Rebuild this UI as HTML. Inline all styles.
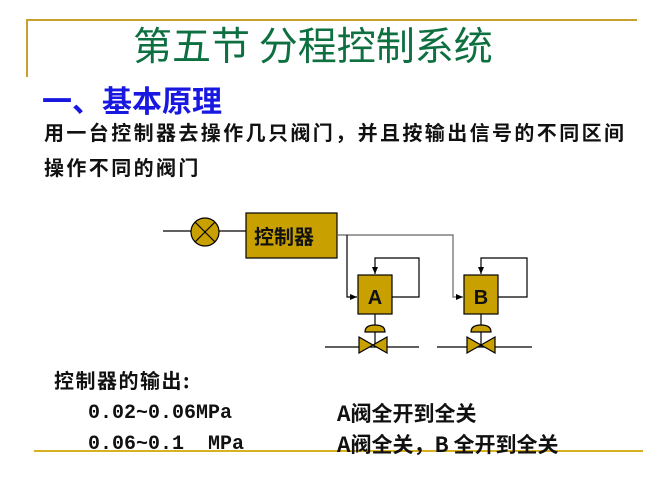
<!DOCTYPE html>
<html><head><meta charset="utf-8"><style>
body{margin:0;width:668px;height:502px;background:#fff;position:relative;overflow:hidden;font-family:"Liberation Sans","Noto Sans CJK SC",sans-serif}
.t{position:absolute;white-space:nowrap;line-height:1}
</style></head><body>
<div style="position:absolute;left:27px;top:19px;width:610px;height:2px;background:#c8a030"></div>
<div style="position:absolute;left:26px;top:19px;width:2px;height:58px;background:#c8a030"></div>
<div style="position:absolute;left:34px;top:450px;width:609px;height:2px;background:#d8b020"></div>
<div class="t" style="left:133px;top:25px;font-size:39px;color:#0e7040;font-family:'Noto Sans CJK SC',sans-serif">第五节 分程控制系统</div>
<div class="t" style="left:42px;top:84px;font-size:30px;color:#1818e0;font-weight:bold;font-family:'Noto Sans CJK SC',sans-serif">一、基本原理</div>
<div class="t" style="left:44px;top:122px;font-size:20px;letter-spacing:2.4px;font-weight:bold;font-family:'Noto Sans CJK SC',sans-serif;color:#111">用一台控制器去操作几只阀门，并且按输出信号的不同区间</div>
<div class="t" style="left:44px;top:157px;font-size:20px;letter-spacing:2.4px;font-weight:bold;font-family:'Noto Sans CJK SC',sans-serif;color:#111">操作不同的阀门</div>
<div class="t" style="left:54px;top:370px;font-size:20px;letter-spacing:1.5px;font-weight:bold;font-family:'Noto Sans CJK SC',sans-serif;color:#111">控制器的输出:</div>
<div class="t" style="left:88px;top:404px;font-size:20px;font-weight:bold;font-family:'Liberation Mono',monospace;color:#111">0.02~0.06MPa</div>
<div class="t" style="left:88px;top:435px;font-size:20px;font-weight:bold;font-family:'Liberation Mono',monospace;color:#111">0.06~0.1&nbsp;&nbsp;MPa</div>
<div class="t" style="left:337px;top:403px;font-size:21px;font-weight:bold;font-family:'Noto Sans CJK SC',sans-serif;color:#111">A阀全开到全关</div>
<div class="t" style="left:337px;top:434px;font-size:21px;font-weight:bold;font-family:'Noto Sans CJK SC',sans-serif;color:#111">A阀全关，B 全开到全关</div>
<svg style="position:absolute;left:0;top:0" width="668" height="502">
<defs><marker id="a" markerWidth="8" markerHeight="8" refX="7" refY="4" orient="auto" markerUnits="userSpaceOnUse"><path d="M0,1 L7,4 L0,7z" fill="#000"/></marker></defs>
<g stroke="#000" stroke-width="1.2" fill="none">
<line x1="163" y1="231" x2="191" y2="231"/><line x1="219" y1="231" x2="246" y2="231"/>
<circle cx="205" cy="232" r="14" fill="#c8a000"/>
<line x1="195" y1="222" x2="215" y2="242"/><line x1="215" y1="222" x2="195" y2="242"/>
<rect x="246" y="213" width="91" height="45" fill="#c8a000"/>
<polyline points="337,235 453,235 453,297 463,297" stroke="#666" marker-end="url(#a)"/>
<polyline points="347,235 347,297 357,297" marker-end="url(#a)"/>
<rect x="358" y="275" width="34" height="39" fill="#c8a000"/>
<rect x="464" y="275" width="34" height="39" fill="#c8a000"/>
<polyline points="392,297 419,297 419,258 375,258 375,274" marker-end="url(#a)"/>
<polyline points="498,297 527,297 527,258 481,258 481,274" marker-end="url(#a)"/>
<line x1="375" y1="314" x2="375" y2="347"/><line x1="481" y1="314" x2="481" y2="347"/>
<line x1="325" y1="347" x2="419" y2="347"/><line x1="437" y1="347" x2="532" y2="347"/>
<path d="M365,332 Q365,325 375,325 Q385,325 385,332 Z" fill="#c8a000"/>
<path d="M471,332 Q471,325 481,325 Q491,325 491,332 Z" fill="#c8a000"/>
<path d="M359,337 L387,353 L387,337 L359,353 Z" fill="#c8a000"/>
<path d="M467,337 L495,353 L495,337 L467,353 Z" fill="#c8a000"/>
</g>
<text x="254" y="244" font-size="20" font-weight="bold" font-family="Noto Sans CJK SC,sans-serif" fill="#111">控制器</text>
<text x="375" y="304" font-size="20" font-weight="bold" text-anchor="middle" font-family="Liberation Sans,sans-serif" fill="#111">A</text>
<text x="481" y="304" font-size="20" font-weight="bold" text-anchor="middle" font-family="Liberation Sans,sans-serif" fill="#111">B</text>
</svg>
</body></html>
